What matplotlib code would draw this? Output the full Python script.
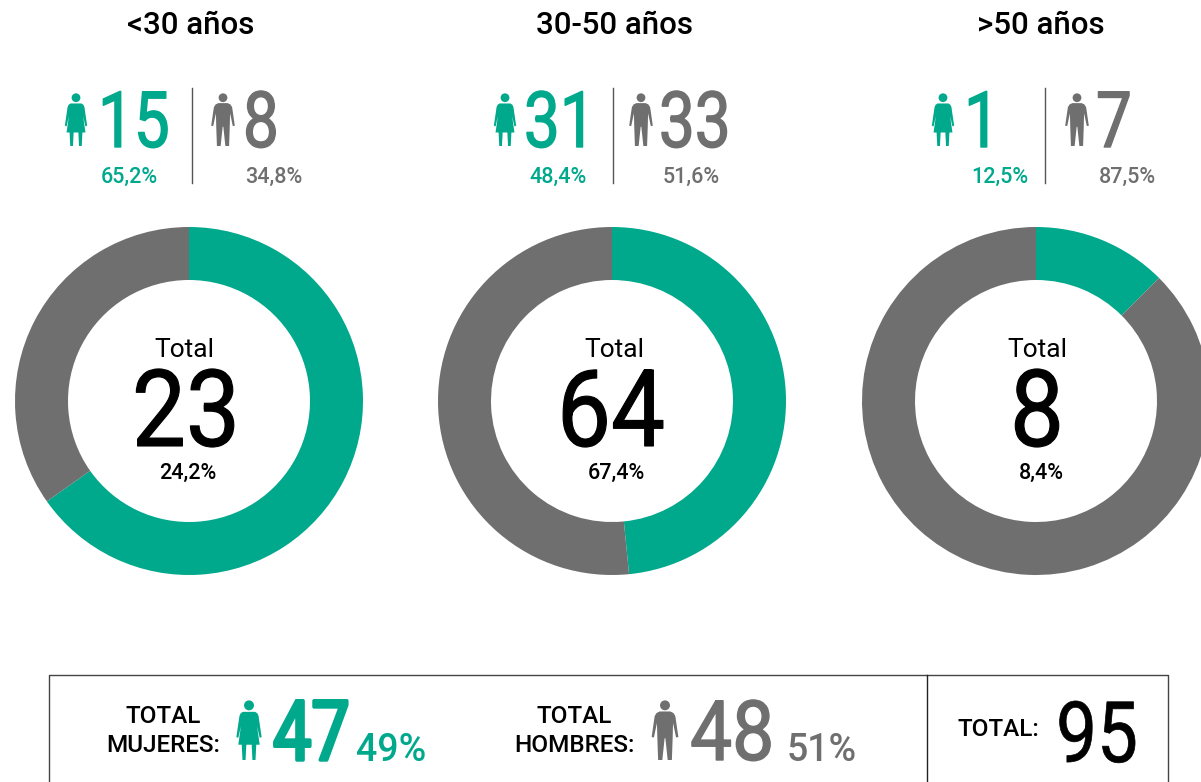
import matplotlib
matplotlib.use("Agg")
import matplotlib.pyplot as plt
import matplotlib.patheffects as pe
from matplotlib.patches import Polygon, Circle
from matplotlib.transforms import Affine2D

plt.rcParams['font.family'] = ['Roboto', 'DejaVu Sans']

# data
edades = ['<30 años', '30-50 años', '>50 años']
mujeres = [15, 31, 1]
hombres = [8, 33, 7]
pct_mujeres = ['65,2%', '48,4%', '12,5%']
pct_hombres = ['34,8%', '51,6%', '87,5%']
totales = [23, 64, 8]
pct_totales = ['24,2%', '67,4%', '8,4%']
total_mujeres = 47
total_hombres = 48
pct_total_mujeres = '49%'
pct_total_hombres = '51%'
total_general = 95

VERDE = '#00A88C'
GRIS = '#6F6F6F'
W, H = 1201, 782

# icon outlines, measured from the zoomed picture
woman = [(-16,31),(16,31),(22,35),(25,42),(33,97),(28,99),(21,68),(28,117),(19,117),(17,157),(9,157),(7,117),
         (-7,117),(-9,157),(-17,157),(-19,117),(-28,117),(-21,68),(-28,99),(-33,97),(-25,42),(-22,35)]
man = [(-14,30),(14,30),(22,34),(27,42),(35,97),(29,98),(21,60),(20,100),(18,157),(7,157),(1,100),(-1,100),
       (-7,157),(-18,157),(-20,100),(-21,60),(-29,98),(-35,97),(-27,42),(-22,34)]

fig = plt.figure(figsize=(W/100, H/100), dpi=100)
ax = fig.add_axes([0, 0, 1, 1])
ax.axis('off')

def Y(y):
    return H - y

# no narrow font installed, so squeeze the digits sideways around their anchor and thicken them
class Squeeze(pe.AbstractPathEffect):
    def __init__(self, x0, sx, lw, color):
        super().__init__()
        self.x0, self.sx, self.lw, self.color = x0, sx, lw, color

    def draw_path(self, renderer, gc, tpath, affine, rgbFace=None):
        a = affine + Affine2D().translate(-self.x0, 0).scale(self.sx, 1).translate(self.x0, 0)
        gc0 = renderer.new_gc()
        gc0.copy_properties(gc)
        gc0.set_linewidth(self.lw)
        gc0.set_foreground(self.color)
        renderer.draw_path(gc0, tpath, a, rgbFace)
        gc0.restore()

def txt(x, y, s, size, color='black', ha='center', weight='normal'):
    ax.text(x, Y(y), s, fontsize=size, color=color, ha=ha, va='baseline', fontweight=weight)

def num(x, y, s, size, color='black', ha='left', sx=0.82, grosor=1.0):
    t = ax.text(x, Y(y), s, fontsize=size, color=color, ha=ha, va='baseline')
    t.set_path_effects([Squeeze(x, sx, grosor, color)])

def icon(shape, cx, top, height, color):
    k = height / 157
    pts = [(cx + px*k, Y(top + py*k)) for px, py in shape]
    ax.add_patch(Polygon(pts, closed=True, fc=color, ec='none', zorder=3))
    ax.add_patch(Circle((cx, Y(top + 14*k)), 13*k, fc=color, ec='none', zorder=3))

centros = [189, 612, 1036]
titulo_x = [191, 614, 1041]
w_icon_x = [76, 505, 943]
w_num_x = [98, 524, 964]
w_pct_x = [129, 558, 1000]
div_x = [192, 613, 1045]
m_icon_x = [223, 641, 1077]
m_num_x = [243, 659, 1096]
m_pct_x = [274, 691, 1127]
total_lbl_x = [184, 614, 1037]
total_num_x = [186, 611, 1037]
total_pct_x = [188, 616, 1041]

for i in range(3):
    ax.pie([mujeres[i], hombres[i]], colors=[VERDE, GRIS], startangle=90, counterclock=False,
           center=(centros[i], Y(401)), radius=174, wedgeprops=dict(width=53, linewidth=0))
    txt(titulo_x[i], 34, edades[i], 22.5, weight='medium')
    icon(woman, w_icon_x[i], 93, 53, VERDE)
    num(w_num_x[i], 147, str(mujeres[i]), 56, VERDE)
    txt(w_pct_x[i], 183, pct_mujeres[i], 15.5, VERDE, weight='medium')
    ax.plot([div_x[i], div_x[i]], [Y(88), Y(183)], color='#555555', lw=1)
    icon(man, m_icon_x[i], 93, 53, GRIS)
    num(m_num_x[i], 147, str(hombres[i]), 56, GRIS)
    txt(m_pct_x[i], 183, pct_hombres[i], 15.5, GRIS, weight='medium')
    txt(total_lbl_x[i], 357, 'Total', 19)
    num(total_num_x[i], 446, str(totales[i]), 77, ha='center', sx=0.9, grosor=0.8)
    txt(total_pct_x[i], 479, pct_totales[i], 15.5, weight='medium')

# bottom box, runs off the lower edge
ax.plot([49, 49, 1168, 1168], [Y(782), Y(675), Y(675), Y(782)], color='#444444', lw=1)
ax.plot([927, 927], [Y(675), Y(782)], color='#222222', lw=1)

txt(163, 723, 'TOTAL', 17.5, weight='medium')
txt(163, 752, 'MUJERES:', 17.5, weight='medium')
icon(woman, 249, 700, 60, VERDE)
num(273, 760, str(total_mujeres), 60, VERDE, sx=0.82, grosor=2.5)
txt(356, 761, pct_total_mujeres, 27, VERDE, ha='left', weight='medium')

txt(574, 723, 'TOTAL', 17.5, weight='medium')
txt(574, 752, 'HOMBRES:', 17.5, weight='medium')
icon(man, 665, 700, 60, GRIS)
num(690, 760, str(total_hombres), 60, GRIS, sx=0.9, grosor=1.0)
txt(787, 761, pct_total_hombres, 27, GRIS, ha='left', weight='medium')

txt(998, 736, 'TOTAL:', 17.5, weight='medium')
num(1097, 762, str(total_general), 61, ha='center', sx=0.86, grosor=0.5)

ax.set_xlim(0, W)
ax.set_ylim(0, H)
ax.set_aspect('auto')

fig.savefig('out.png', dpi=100)
